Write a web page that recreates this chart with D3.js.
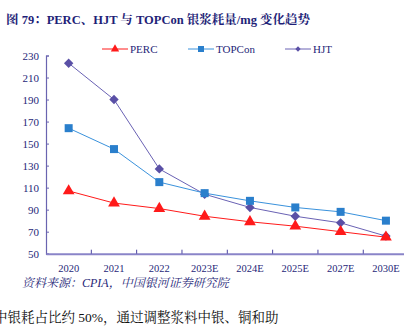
<!DOCTYPE html>
<html>
<head>
<meta charset="utf-8">
<script src="https://cdn.jsdelivr.net/npm/d3@7"></script>
<style>
  body { margin: 0; background: #fff; }
  svg { display: block; }
</style>
</head>
<body>
<script>
// silver paste consumption, mg per cell
var years = ["2020", "2021", "2022", "2023E", "2024E", "2025E", "2027E", "2030E"];
var perc = [107, 96, 91, 84, 79, 75, 70, 65];
var topcon = [164, 145, 115, 105, 98, 92, 88, 80];
var hjt = [223, 190, 127, 104, 92, 84, 78, 66];
var yTicks = [50, 70, 90, 110, 130, 150, 170, 190, 210, 230];

var width = 404, height = 326;
var navy = "#1f1f78";
var serif = "'Liberation Serif', 'Noto Serif CJK SC', 'Noto Sans CJK SC', serif";

var svg = d3.select("body").append("svg")
    .attr("width", width)
    .attr("height", height);

var x = d3.scaleBand().domain(years).range([46, 408.6]);
var y = d3.scaleLinear().domain([50, 230]).range([253.7, 55.5]);

// title
svg.append("text")
    .attr("x", 6).attr("y", 24)
    .attr("font-family", serif)
    .attr("font-weight", "bold")
    .attr("font-size", 12.5)
    .attr("fill", navy)
    .text("图 79：PERC、HJT 与 TOPCon 银浆耗量/mg 变化趋势");

// y axis
var yAxis = svg.append("g")
    .attr("transform", "translate(46,0)")
    .call(d3.axisLeft(y).tickValues(yTicks).tickSize(-3).tickPadding(7));
yAxis.select(".domain").attr("stroke", "#6a64b0").attr("stroke-width", 1.2);
yAxis.selectAll(".tick line").attr("stroke", "#6a64b0");
yAxis.selectAll("text")
    .attr("font-family", serif)
    .attr("font-size", 11)
    .attr("fill", navy);

// x axis
var xAxis = svg.append("g")
    .attr("transform", "translate(0," + y(50) + ")")
    .call(d3.axisBottom(x).tickSize(0).tickPadding(11));
xAxis.select(".domain").attr("stroke", "#8a84c8").attr("stroke-width", 2);
xAxis.selectAll("text")
    .attr("font-family", serif)
    .attr("font-size", 10.5)
    .attr("fill", navy);
// ticks between categories
xAxis.selectAll(".sep")
    .data(years.slice(1))
    .enter().append("line")
    .attr("x1", function(d) { return x(d); })
    .attr("x2", function(d) { return x(d); })
    .attr("y1", 0).attr("y2", -4)
    .attr("stroke", "#4a44a0");

var cx = function(d, i) { return x(years[i]) + x.bandwidth() / 2; };
var line = d3.line().x(cx).y(function(d) { return y(d); });

var series = [
  { name: "PERC", values: perc, color: "#ff1a1a", mark: "tri", size: 60, legSize: 30 },
  { name: "TOPCon", values: topcon, color: "#3a92dc", fill: "#2a7fcc", mark: "sq", size: 64, legSize: 36 },
  { name: "HJT", values: hjt, color: "#6a62b4", fill: "#5a50a6", mark: "dia", size: 44, legSize: 14 }
];

// diamonds are squares turned 45 degrees
function marker(s, size) {
  var shape = s.mark == "tri" ? d3.symbolTriangle : d3.symbolSquare;
  return d3.symbol().type(shape).size(size)();
}
function rot(s) { return s.mark == "dia" ? " rotate(45)" : ""; }

// HJT drawn first so the others sit on top
[series[2], series[1], series[0]].forEach(function(s) {
  svg.append("path")
      .datum(s.values)
      .attr("d", line)
      .attr("fill", "none")
      .attr("stroke", s.color)
      .attr("stroke-width", 1);
  svg.selectAll(".m-" + s.mark)
      .data(s.values)
      .enter().append("path")
      .attr("class", "m-" + s.mark)
      .attr("transform", function(d, i) { return "translate(" + cx(d, i) + "," + y(d) + ")" + rot(s); })
      .attr("d", marker(s, s.size))
      .attr("fill", s.fill || s.color);
});

// legend
var legX = [102, 188, 285];
series.forEach(function(s, i) {
  var g = svg.append("g").attr("transform", "translate(" + legX[i] + ",49)");
  g.append("line").attr("x1", 0).attr("x2", 26).attr("stroke", s.color).attr("stroke-width", 1);
  g.append("path")
      .attr("transform", "translate(13,0)" + rot(s))
      .attr("d", marker(s, s.legSize))
      .attr("fill", s.fill || s.color);
  g.append("text")
      .attr("x", 28).attr("y", 4)
      .attr("font-family", serif)
      .attr("font-size", 11)
      .attr("fill", navy)
      .text(s.name);
});

// source note
svg.append("text")
    .attr("x", 22).attr("y", 287)
    .attr("font-family", serif)
    .attr("font-style", "italic")
    .attr("font-size", 12)
    .attr("fill", navy)
    .text("资料来源：CPIA，中国银河证券研究院");

// body text below the figure, running off the left edge
svg.append("text")
    .attr("x", -6).attr("y", 322)
    .attr("font-family", serif)
    .attr("font-size", 13.5)
    .attr("fill", "#111")
    .text("中银耗占比约 50%，通过调整浆料中银、铜和助");
</script>
</body>
</html>
